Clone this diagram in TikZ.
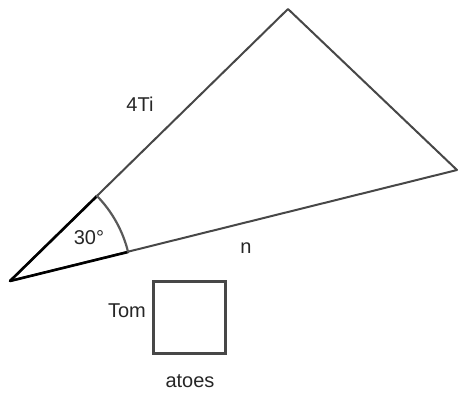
\documentclass[tikz,border=0pt]{standalone}
\usepackage{fontspec}
\setmainfont{Liberation Sans}
\begin{document}
\begin{tikzpicture}[x=1pt,y=-1pt,
  edge/.style={draw=black!72,line width=2pt,line join=round,line cap=round},
  bold/.style={draw=black,line width=2.6pt,line cap=round},
  lab/.style={font=\fontsize{20}{24}\selectfont,text=black!85,inner sep=0pt}]
\useasboundingbox (0,0) rectangle (459,392);
\coordinate (A) at (10,281);
\coordinate (B) at (288,9);
\coordinate (C) at (457,170);
\coordinate (P) at (97,196);
\coordinate (Q) at (128,252);
\draw[edge] (A) -- (B) -- (C) -- cycle;
\draw[bold] (A) -- (P);
\draw[bold] (A) -- (Q);
\draw[edge,black!65,line width=2.2pt] (P) arc[start angle=-44.3,end angle=-13.8,radius=121.6];
\node[lab] (t30) at (89,238) {30°};
\node[lab] (t4) at (140,104) {4Ti};
\node[lab] (tn) at (246,248) {n};
\node[draw=black!72,line width=2.2pt,minimum size=72pt,inner sep=0pt] (sq) at (189.5,317.5) {};
\node[lab,anchor=east] (tom) at (146,311) {Tom};
\node[lab] (at) at (190,381) {atoes};
\end{tikzpicture}
\end{document}
